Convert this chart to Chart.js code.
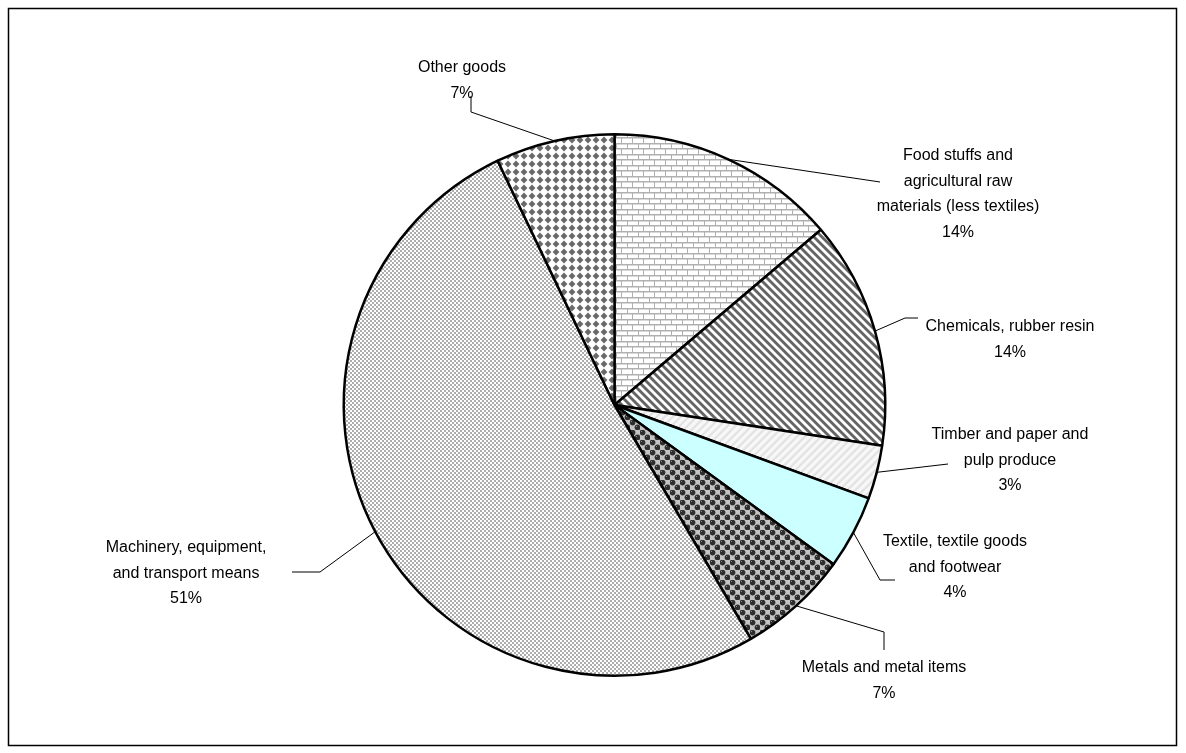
<!DOCTYPE html>
<html>
<head>
<meta charset="utf-8">
<script src="https://cdn.jsdelivr.net/npm/chart.js@4/dist/chart.umd.min.js"></script>
<style>
  body { margin: 0; background: #fff; }
  #wrap { width: 1186px; height: 753px; position: relative; }
</style>
</head>
<body>
<div id="wrap"><canvas id="c" width="1186" height="753"></canvas></div>
<script>
// Export structure by commodity group, share of total (%)
const categories = [
    'Food stuffs and agricultural raw materials (less textiles)',
    'Chemicals, rubber resin',
    'Timber and paper and pulp produce',
    'Textile, textile goods and footwear',
    'Metals and metal items',
    'Machinery, equipment, and transport means',
    'Other goods'
];
const shares = [13.8, 13.6, 3.2, 4.4, 6.6, 51.3, 7.1];

// how each category name is broken over lines
const labelLines = [
    ['Food stuffs and', 'agricultural raw', 'materials (less textiles)'],
    ['Chemicals, rubber resin'],
    ['Timber and paper and', 'pulp produce'],
    ['Textile, textile goods', 'and footwear'],
    ['Metals and metal items'],
    ['Machinery, equipment,', 'and transport means'],
    ['Other goods']
];

// label placement: text centre x, first line y, and leader bend points
const labelPos = [
    { x: 958, y: 156, leader: [[880, 182]] },
    { x: 1010, y: 327, leader: [[905, 318], [918, 318]] },
    { x: 1010, y: 435, leader: [[948, 464]] },
    { x: 955, y: 542, leader: [[880, 580], [895, 580]] },
    { x: 884, y: 668, leader: [[884, 632], [884, 650]] },
    { x: 186, y: 548, leader: [[320, 572], [292, 572]] },
    { x: 462, y: 68, leader: [[471, 112], [471, 96]] }
];

const ctx = document.getElementById('c').getContext('2d');

function tile(w, h, draw) {
    const t = document.createElement('canvas');
    t.width = w;
    t.height = h;
    const g = t.getContext('2d');
    draw(g, w, h);
    return ctx.createPattern(t, 'repeat');
}

// brick
const brick = tile(11, 11, function(g) {
    g.fillStyle = '#fff';
    g.fillRect(0, 0, 11, 11);
    g.fillStyle = '#b0b0b0';
    g.fillRect(0, 0, 11, 1);
    g.fillRect(0, 5, 11, 1);
    g.fillRect(0, 0, 1, 5);
    g.fillRect(5, 5, 1, 6);
    g.fillStyle = '#d8d8d8';
    g.fillRect(1, 1, 10, 1);
    g.fillRect(0, 6, 5, 1);
    g.fillRect(6, 6, 5, 1);
});

// wide dark downward diagonal
const darkStripes = tile(8, 8, function(g) {
    const img = g.createImageData(8, 8);
    for (let y = 0; y < 8; y++) {
        for (let x = 0; x < 8; x++) {
            const d = ((x - y) % 8 + 8) % 8;
            let v = 255;
            if (d === 0 || d === 1 || d === 2) v = 100;
            else if (d === 3 || d === 7) v = 175;
            const i = (y * 8 + x) * 4;
            img.data[i] = img.data[i + 1] = img.data[i + 2] = v;
            img.data[i + 3] = 255;
        }
    }
    g.putImageData(img, 0, 0);
});

// faint upward diagonal
const lightStripes = tile(8, 8, function(g) {
    const img = g.createImageData(8, 8);
    for (let y = 0; y < 8; y++) {
        for (let x = 0; x < 8; x++) {
            const d = (x + y) % 8;
            let v = 247;
            if (d === 0 || d === 1) v = 226;
            else if (d === 2 || d === 7) v = 236;
            const i = (y * 8 + x) * 4;
            img.data[i] = img.data[i + 1] = img.data[i + 2] = v;
            img.data[i + 3] = 255;
        }
    }
    g.putImageData(img, 0, 0);
});

// shaded balls on a checkerboard
const balls = tile(10, 10, function(g) {
    g.fillStyle = '#fff';
    g.fillRect(0, 0, 10, 10);
    g.fillStyle = '#c4c4c4';
    g.fillRect(5, 0, 5, 5);
    g.fillRect(0, 5, 5, 5);
    [[2.5, 2.5], [7.5, 7.5]].forEach(function(p) {
        g.fillStyle = '#2e2e2e';
        g.beginPath();
        g.arc(p[0], p[1], 2.9, 0, Math.PI * 2);
        g.fill();
        g.fillStyle = '#909090';
        g.fillRect(p[0] - 1.5, p[1] - 1.5, 1, 1);
    });
});

// fine checkerboard
const fineCheck = tile(4, 4, function(g) {
    g.fillStyle = '#adadad';
    g.fillRect(0, 0, 4, 4);
    g.fillStyle = '#fff';
    g.fillRect(0, 0, 2, 2);
    g.fillRect(2, 2, 2, 2);
});

// solid diamonds
const diamonds = tile(8, 8, function(g) {
    g.fillStyle = '#fff';
    g.fillRect(0, 0, 8, 8);
    g.fillStyle = '#6a6a6a';
    g.beginPath();
    g.moveTo(4, 0.6);
    g.lineTo(7.4, 4);
    g.lineTo(4, 7.4);
    g.lineTo(0.6, 4);
    g.closePath();
    g.fill();
});

const fills = [brick, darkStripes, lightStripes, '#ccffff', balls, fineCheck, diamonds];

const frameAndLabels = {
    id: 'frameAndLabels',
    beforeDraw(chart) {
        const c = chart.ctx;
        c.save();
        c.fillStyle = '#fff';
        c.fillRect(0, 0, chart.width, chart.height);
        c.strokeStyle = '#000';
        c.lineWidth = 1.5;
        c.strokeRect(8.5, 8.5, 1168, 737);
        c.restore();
    },
    afterDatasetsDraw(chart) {
        const c = chart.ctx;
        const meta = chart.getDatasetMeta(0);
        c.save();
        c.font = '16px "Liberation Sans", Arial, sans-serif';
        c.textAlign = 'center';
        c.textBaseline = 'middle';
        meta.data.forEach(function(arc, i) {
            const p = arc.getProps(['x', 'y', 'startAngle', 'endAngle', 'outerRadius'], true);
            const mid = (p.startAngle + p.endAngle) / 2;
            const sx = p.x + Math.cos(mid) * p.outerRadius;
            const sy = p.y + Math.sin(mid) * p.outerRadius;
            const pos = labelPos[i];

            c.strokeStyle = '#000';
            c.lineWidth = 1;
            c.beginPath();
            c.moveTo(sx, sy);
            pos.leader.forEach(function(pt) { c.lineTo(pt[0], pt[1]); });
            c.stroke();

            const lines = labelLines[i].concat([Math.round(shares[i]) + '%']);
            c.fillStyle = '#000';
            lines.forEach(function(t, k) {
                c.fillText(t, pos.x, pos.y + k * 25.5);
            });
        });
        c.restore();
    }
};

new Chart(ctx, {
    type: 'pie',
    data: {
        labels: categories,
        datasets: [{
            data: shares,
            backgroundColor: fills,
            borderColor: '#000',
            borderWidth: 2.5
        }]
    },
    options: {
        responsive: false,
        animation: false,
        layout: { padding: { left: 300, right: 257, top: 133, bottom: 76 } },
        plugins: {
            legend: { display: false },
            tooltip: { enabled: false }
        }
    },
    plugins: [frameAndLabels]
});
</script>
</body>
</html>
